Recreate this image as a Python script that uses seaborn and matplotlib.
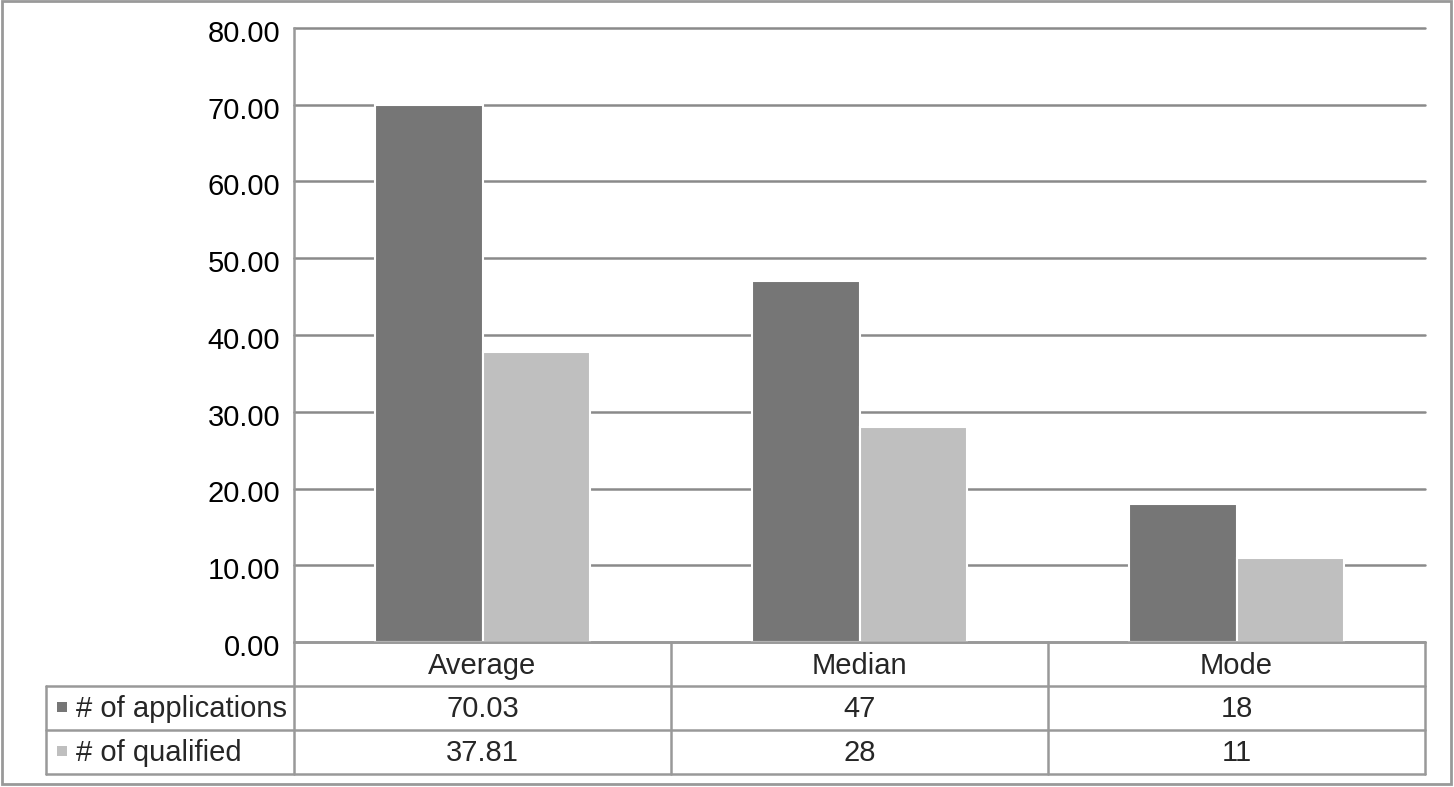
import matplotlib
matplotlib.use("Agg")
import matplotlib.pyplot as plt
import matplotlib.transforms as mtransforms
from matplotlib.lines import Line2D
from matplotlib.patches import Rectangle
import seaborn as sns
import pandas as pd

categories = ["Average", "Median", "Mode"]
series_names = ["# of applications", "# of qualified"]
applications = [70.03, 47, 18]
qualified = [37.81, 28, 11]
table_applications = ["70.03", "47", "18"]
table_qualified = ["37.81", "28", "11"]
yticks = [0, 10, 20, 30, 40, 50, 60, 70, 80]
colors = ["#767676", "#bfbfbf"]

sns.set_theme(style="white")
plt.rcParams['font.family'] = ['Liberation Sans', 'DejaVu Sans']

W, H = 1454, 787
fig = plt.figure(figsize=(W / 100, H / 100), dpi=100)
fig.patch.set_facecolor("white")


def fx(x):
    return x / W


def fy(y):
    return 1 - y / H


ax = fig.add_axes([fx(294), fy(642), fx(1425) - fx(294), fy(28) - fy(642)])

df = pd.DataFrame({
    "category": categories * 2,
    "series": [s for s in series_names for _ in categories],
    "value": applications + qualified,
})
sns.barplot(data=df, x="category", y="value", hue="series", palette=colors,
            width=0.57, gap=0, edgecolor="white", linewidth=1.5, ax=ax,
            legend=False, zorder=3, errorbar=None)

fs = 21
ax.set_xlim(-0.5, 2.5)
ax.set_ylim(0, 80)
ax.set_yticks(yticks)
ax.set_yticklabels([f"{v:.2f}" for v in yticks], fontsize=fs, color="black")
ax.tick_params(axis="y", length=0, pad=10)
shift = mtransforms.ScaledTranslation(0, -3 / 100, fig.dpi_scale_trans)
for lab in ax.get_yticklabels():
    lab.set_transform(lab.get_transform() + shift)
ax.set_xticks([])
ax.set_xlabel("")
ax.set_ylabel("")
ax.yaxis.grid(True, color="#8a8a8a", linewidth=1.8)
for gl in ax.get_ygridlines():
    gl.set_clip_on(False)
ax.set_axisbelow(True)
for s in ["top", "right", "bottom"]:
    ax.spines[s].set_visible(False)
ax.spines["left"].set_color("#999999")
ax.spines["left"].set_linewidth(1.8)

lc = "#999999"
lw = 1.8
blend = mtransforms.blended_transform_factory(ax.transData, fig.transFigure)


def hline(y, x0, x1):
    fig.add_artist(Line2D([fx(x0), fx(x1)], [fy(y), fy(y)], color=lc, lw=lw,
                          transform=fig.transFigure))


def vline_fig(x, y0, y1):
    fig.add_artist(Line2D([fx(x), fx(x)], [fy(y0), fy(y1)], color=lc, lw=lw,
                          transform=fig.transFigure))


# table lines
hline(642, 294, 1425)
for y in [686, 730, 774]:
    hline(y, 46, 1425)
vline_fig(46, 686, 774)
vline_fig(294, 642, 774)
vline_fig(1425, 642, 774)
for xd in [0.5, 1.5]:
    fig.add_artist(Line2D([xd, xd], [fy(642), fy(774)], color=lc, lw=lw,
                          transform=blend))

# outer border
fig.add_artist(Rectangle((fx(2), fy(784)), fx(1451) - fx(2), fy(1) - fy(784),
                         fill=False, edgecolor=lc, lw=2, transform=fig.transFigure))

for i, cat in enumerate(categories):
    fig.text(i, fy(666), cat, transform=blend, ha="center", va="center", fontsize=fs)
    fig.text(i, fy(709), table_applications[i], transform=blend, ha="center", va="center", fontsize=fs)
    fig.text(i, fy(753), table_qualified[i], transform=blend, ha="center", va="center", fontsize=fs)

for name, col, yc in zip(series_names, colors, [707, 751]):
    fig.add_artist(Rectangle((fx(57), fy(yc + 5)), fx(10), fy(0) - fy(10),
                             facecolor=col, edgecolor="none", transform=fig.transFigure))
    fig.text(fx(76), fy(yc + 2), name, ha="left", va="center", fontsize=fs)

fig.savefig("out.png", dpi=100, facecolor="white")
